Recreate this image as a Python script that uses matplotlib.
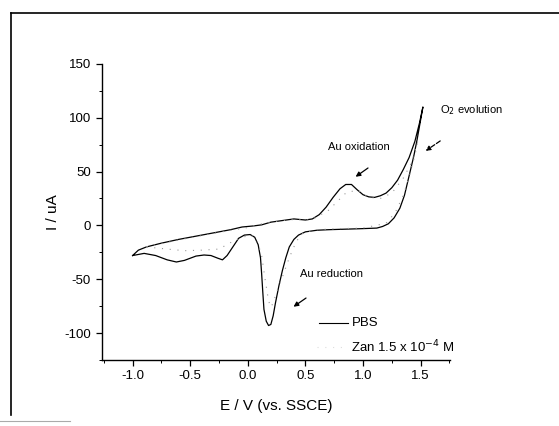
import matplotlib
matplotlib.use("Agg")
import matplotlib.pyplot as plt
from matplotlib.lines import Line2D
from matplotlib.ticker import MultipleLocator

plt.rcParams['font.family'] = ['Liberation Sans', 'DejaVu Sans']
plt.rcParams['axes.unicode_minus'] = False

# PBS cyclic voltammogram (E in V, I in uA)
pbs_e = [-1.00, -0.95, -0.88, -0.75, -0.60, -0.45, -0.30, -0.15, -0.05, 0.05,
         0.12, 0.20, 0.30, 0.40, 0.50, 0.56, 0.62, 0.68, 0.74, 0.80,
         0.85, 0.90, 0.95, 1.00, 1.05, 1.10, 1.15, 1.20, 1.25, 1.30,
         1.35, 1.40, 1.45, 1.49, 1.52,
         1.50, 1.47, 1.44, 1.40, 1.36, 1.32, 1.27, 1.22, 1.17, 1.12,
         1.00, 0.85, 0.70, 0.60, 0.50, 0.44, 0.40, 0.36, 0.33, 0.30,
         0.27, 0.24, 0.22, 0.20, 0.18, 0.16, 0.14, 0.13, 0.12, 0.11,
         0.09, 0.06, 0.02, -0.03, -0.08, -0.13, -0.18, -0.22, -0.26, -0.32,
         -0.38, -0.45, -0.55, -0.62, -0.70, -0.80, -0.90, -1.00]
pbs_i = [-28, -23, -20, -16.5, -13, -10, -7, -4, -1.5, -0.5,
         0.5, 3, 4.5, 6, 5, 6, 10, 17, 26, 34,
         38, 38, 33, 28.5, 26.5, 26, 27.5, 30, 35, 42,
         52, 63, 78, 95, 110,
         98, 80, 64, 46, 28, 16, 7, 1.5, -1, -2.5,
         -3, -3.5, -4, -4.5, -6, -9, -13, -20, -30, -42,
         -56, -72, -84, -92, -93, -89, -78, -62, -45, -30,
         -18, -11, -8.5, -9, -12, -20, -28, -32, -30.5, -28,
         -27.5, -28.5, -32.5, -34, -32, -28, -26, -28]

# Zanamivir trace (faint dotted in the scan)
zan_e = [-0.88, -0.75, -0.60, -0.45, -0.30, -0.15, 0.00, 0.10, 0.20, 0.30,
         0.40, 0.55, 0.70, 0.85, 0.95, 1.05, 1.15, 1.25, 1.35, 1.42, 1.48,
         1.45, 1.40, 1.35, 1.28, 1.20, 1.00, 0.80, 0.60, 0.48, 0.42,
         0.36, 0.30, 0.25, 0.22, 0.20, 0.18, 0.15, 0.12, 0.08, 0.03,
         -0.05, -0.15, -0.25, -0.40, -0.55, -0.70, -0.88]
zan_i = [-20, -17, -13.5, -10.5, -7.5, -4.5, -2, 1, 3, 4.5,
         5.5, 5, 14, 30, 33, 26, 25, 30, 44, 58, 80,
         65, 45, 28, 12, 2, -2.5, -3, -4, -7, -15,
         -30, -48, -62, -72, -76, -70, -50, -28, -14, -9,
         -11, -16, -22, -23, -23.5, -22, -20]

fig = plt.figure(figsize=(5.59, 4.26), dpi=100)
ax = fig.add_axes([0.1816, 0.155, 0.6234, 0.695])

ax.plot(pbs_e, pbs_i, color='black', lw=0.9)
ax.plot(zan_e, zan_i, color='#999999', lw=0.8, ls=(0, (1, 6)))

ax.set_xlim(-1.27, 1.755)
ax.set_ylim(-125, 150)
ax.spines['top'].set_visible(False)
ax.spines['right'].set_visible(False)
ax.spines['left'].set_linewidth(1.0)
ax.spines['bottom'].set_linewidth(1.0)
ax.set_xticks([-1.0, -0.5, 0.0, 0.5, 1.0, 1.5])
ax.set_yticks([-100, -50, 0, 50, 100, 150])
ax.xaxis.set_minor_locator(MultipleLocator(0.25))
ax.yaxis.set_minor_locator(MultipleLocator(25))
ax.tick_params(which='major', length=4, width=0.9, labelsize=9.5, direction='out')
ax.tick_params(which='minor', length=2, width=0.7, direction='out')

ax.set_xlabel('E / V (vs. SSCE)', fontsize=11, labelpad=12)
ax.set_ylabel('I / uA', fontsize=11, labelpad=3)

ax.text(0.70, 73, 'Au oxidation', fontsize=8, va='center')
ax.text(1.666, 107, 'O$_2$ evolution', fontsize=8, va='center', clip_on=False)
ax.text(0.455, -45.5, 'Au reduction', fontsize=8, va='center')

arw = dict(arrowstyle='-|>', color='black', lw=0.9, mutation_scale=7)
ax.annotate('', xy=(0.916, 43.7), xytext=(1.063, 54.8), arrowprops=arw)
ax.annotate('', xy=(0.377, -77), xytext=(0.525, -66), arrowprops=arw)
ax.annotate('', xy=(1.524, 67.8), xytext=(1.69, 79.9),
            arrowprops=dict(arrowstyle='-|>', color='black', lw=0.9,
                            mutation_scale=7, ls='--'),
            annotation_clip=False)

# legend drawn in the plot as in the scan
ax.plot([0.621, 0.872], [-91, -91], color='black', lw=0.8)
ax.text(0.904, -91, 'PBS', fontsize=9.5, va='center')
ax.plot([0.60, 0.86], [-113, -113], color='#dddddd', lw=0.8, ls=(0, (1, 6)))
ax.text(0.898, -113, 'Zan 1.5 x 10$^{-4}$ M', fontsize=9.5, va='center')

# outer frame of the scanned page
fig.add_artist(Line2D([11/559, 11/559], [1-13/426, 1-415/426], color='black', lw=1.2))
fig.add_artist(Line2D([11/559, 1.0], [1-13/426, 1-13/426], color='black', lw=1.2))
fig.add_artist(Line2D([0.0, 70/559], [1-421/426, 1-421/426], color='#aaaaaa', lw=0.8))

fig.savefig('out.png', dpi=100)
